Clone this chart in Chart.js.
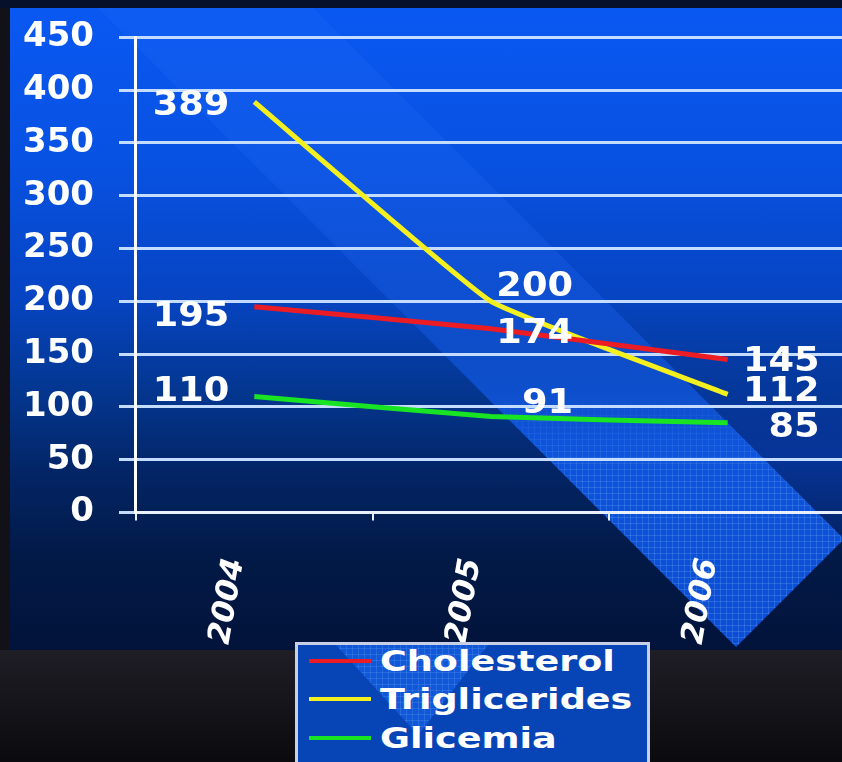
<!DOCTYPE html>
<html>
<head>
<meta charset="utf-8">
<script src="https://cdn.jsdelivr.net/npm/chart.js@4.4.1/dist/chart.umd.min.js"></script>
<style>
  html, body { margin: 0; padding: 0; width: 842px; height: 762px; overflow: hidden; }
  body { background: linear-gradient(to bottom, #07102a 0px, #07102a 8px, #1f1e26 650px, #0b0a0e 762px); position: relative; font-family: "DejaVu Sans", sans-serif; }
  #gutter { position: absolute; left: 0; top: 8px; width: 10px; height: 642px; background: #111117; }
  #slide {
    position: absolute; left: 10px; top: 8px; width: 832px; height: 642px; overflow: hidden;
    background: linear-gradient(to bottom, #0a58f2 0%, #0852e2 24%, #0644c2 45%, #04368f 60%, #032566 72%, #021a48 85%, #02133a 100%);
  }
  #slide .layer { position: absolute; left: -10px; top: -8px; width: 842px; height: 650px; }
  /* light diagonal band running down to the lower right corner */
  #band {
    background: linear-gradient(to bottom, rgba(60,130,255,0.10) 0%, rgba(40,110,250,0.25) 45%, rgba(14,86,226,0.95) 68%, rgba(12,80,220,0.95) 100%);
    clip-path: polygon(98px 8px, 313px 8px, 844px 539px, 736px 647px);
  }
  #grid {
    background:
      repeating-linear-gradient(90deg, rgba(150,200,255,0.20) 0 1px, rgba(0,0,0,0) 1px 6px),
      repeating-linear-gradient(0deg, rgba(150,200,255,0.20) 0 1px, rgba(0,0,0,0) 1px 6px);
    clip-path: polygon(98px 8px, 313px 8px, 844px 539px, 736px 647px);
    -webkit-mask-image: linear-gradient(to bottom, transparent 0%, transparent 60%, black 75%);
    mask-image: linear-gradient(to bottom, transparent 0%, transparent 60%, black 75%);
  }
  #band2 {
    background: linear-gradient(to bottom, rgba(0,0,0,0) 0%, rgba(10,70,200,0.0) 50%, rgba(8,60,180,0.6) 70%, rgba(0,0,0,0) 90%);
    clip-path: polygon(313px 8px, 842px 8px, 842px 537px);
  }
  #wrap { position: absolute; left: -22px; top: -8px; width: 870px; height: 700px; }
  #legend {
    position: absolute; left: 295px; top: 642px; width: 355px; height: 130px;
    border: 3px solid #c8d0e8; box-sizing: border-box; overflow: hidden;
    background: #0744b6;
  }
  #legend .lband {
    position: absolute; inset: 0;
    background:
      repeating-linear-gradient(90deg, rgba(150,200,255,0.16) 0 1px, rgba(0,0,0,0) 1px 6px),
      repeating-linear-gradient(0deg, rgba(150,200,255,0.16) 0 1px, rgba(0,0,0,0) 1px 6px),
      #1058d8;
    clip-path: polygon(38px 0px, 190px 0px, 120px 90px);
  }
  #legend .item { position: absolute; left: 11px; height: 40px; display: flex; align-items: center; }
  #legend .swatch { width: 62px; height: 4px; margin-right: 9px; }
  #legend .label { color: #ffffff; font: bold 29px "DejaVu Sans", sans-serif; white-space: nowrap; display: inline-block; transform: scaleX(1.26); transform-origin: left center; }
</style>
</head>
<body>
<div id="gutter"></div>
<div id="slide">
  <div class="layer" id="band2"></div>
  <div class="layer" id="band"></div>
  <div class="layer" id="grid"></div>
</div>
<div id="wrap"><canvas id="chart-area"></canvas></div>
<div id="legend"><div class="lband"></div></div>

<script>
// years on the x axis
var years = ['2004', '2005', '2006'];
// one series per blood test
var cholesterol = [195, 174, 145];
var triglicerides = [389, 200, 112];
var glicemia = [110, 91, 85];
// y axis range and step
var yMin = 0;
var yMax = 450;
var yStep = 50;

var seriesColors = {
  cholesterol: '#ec1c24',
  triglicerides: '#f4f020',
  glicemia: '#18e424'
};

// value labels next to each point: x shift per year, y shift per series/year
var labelDx = [-25, 82, 92];
var labelDy = [
  [11, 5, 3],
  [4, -14, -2],
  [-4, -12, 5]
];

var valueLabels = {
  id: 'valueLabels',
  afterDatasetsDraw: function(chart) {
    var ctx = chart.ctx;
    chart.data.datasets.forEach(function(ds, di) {
      var meta = chart.getDatasetMeta(di);
      meta.data.forEach(function(pt, i) {
        ctx.save();
        ctx.font = 'bold 34px "DejaVu Sans"';
        ctx.fillStyle = '#ffffff';
        ctx.textAlign = 'right';
        ctx.textBaseline = 'middle';
        ctx.translate(pt.x + labelDx[i], pt.y + labelDy[di][i]);
        ctx.scale(1.08, 1);   // slightly wide lettering
        ctx.fillText(String(ds.data[i]), 0, 0);
        ctx.restore();
      });
    });
  }
};

var config = {
  type: 'line',
  data: {
    labels: years,
    datasets: [{
      label: 'Cholesterol',
      data: cholesterol,
      borderColor: seriesColors.cholesterol,
      backgroundColor: seriesColors.cholesterol
    }, {
      label: 'Triglicerides',
      data: triglicerides,
      borderColor: seriesColors.triglicerides,
      backgroundColor: seriesColors.triglicerides
    }, {
      label: 'Glicemia',
      data: glicemia,
      borderColor: seriesColors.glicemia,
      backgroundColor: seriesColors.glicemia
    }]
  },
  options: {
    responsive: false,
    animation: false,
    layout: { padding: { left: 20, top: 37, right: 2, bottom: 10 } },
    elements: {
      line: { borderWidth: 5, tension: 0.1, borderCapStyle: 'butt' },
      point: { radius: 0, hoverRadius: 0 }
    },
    plugins: {
      legend: { display: false },
      tooltip: { enabled: false }
    },
    scales: {
      x: {
        offset: true,
        grid: { offset: true, drawOnChartArea: false, drawTicks: true, tickLength: 8, color: '#e8f0ff', lineWidth: 2 },
        border: { display: true, color: '#e8f0ff', width: 3 },
        ticks: {
          minRotation: 80, maxRotation: 80, padding: 35, labelOffset: -19,
          color: '#ffffff',
          font: { family: 'DejaVu Sans', size: 31, weight: 'bold', style: 'italic' }
        }
      },
      y: {
        min: yMin, max: yMax,
        grid: { color: '#c4dcff', lineWidth: 3, tickLength: 17 },
        border: { display: true, color: '#ffffff', width: 3 },
        ticks: {
          stepSize: yStep, padding: 25,
          color: '#ffffff',
          font: { family: 'DejaVu Sans', size: 34, weight: 'bold' }
        }
      }
    }
  },
  plugins: [valueLabels]
};

window.onload = function() {
  var canvas = document.getElementById('chart-area');
  canvas.width = 870;
  canvas.height = 700;
  canvas.style.width = '870px';
  canvas.style.height = '700px';
  window.myLine = new Chart(canvas, config);

  // legend built from the chart's datasets, stacked one per row
  var legend = document.getElementById('legend');
  var rowTop = [-4, 34, 73];
  window.myLine.data.datasets.forEach(function(ds, i) {
    var item = document.createElement('div');
    item.className = 'item';
    item.style.top = rowTop[i] + 'px';
    var sw = document.createElement('span');
    sw.className = 'swatch';
    sw.style.background = ds.borderColor;
    var tx = document.createElement('span');
    tx.className = 'label';
    tx.textContent = ds.label;
    item.appendChild(sw);
    item.appendChild(tx);
    legend.appendChild(item);
  });
};
</script>
</body>
</html>
